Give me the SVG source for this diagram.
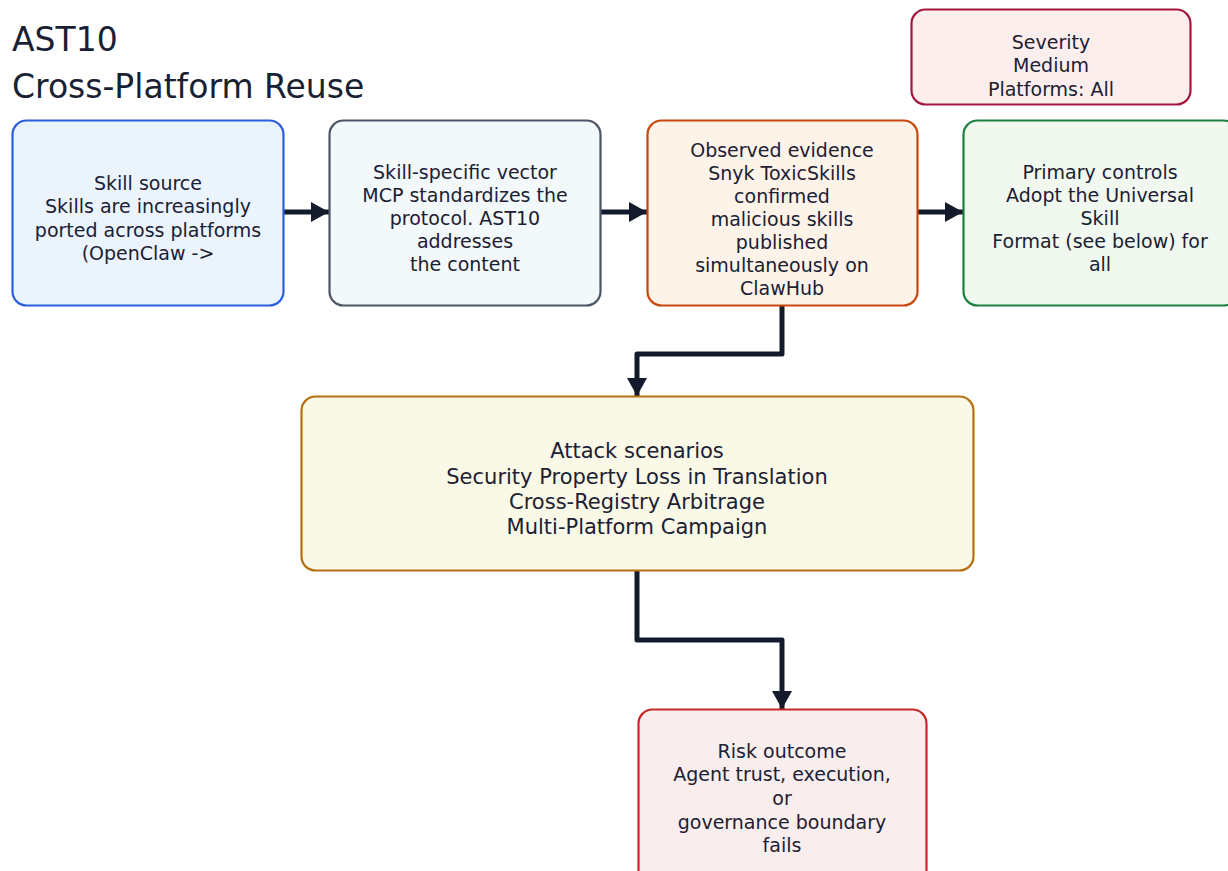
<svg xmlns="http://www.w3.org/2000/svg" width="1228" height="871" viewBox="0 0 1228 871">
  <style>
    .title { font-family: "DejaVu Sans", "Liberation Sans", sans-serif; font-size: 33px; fill: #1a1f33; }
    .lbl { font-family: "DejaVu Sans", "Liberation Sans", sans-serif; font-size: 19px; fill: #1c2033; text-anchor: middle; }
    .lbl-lg { font-family: "DejaVu Sans", "Liberation Sans", sans-serif; font-size: 21px; fill: #1c2033; text-anchor: middle; }
    .box { stroke-width: 2.2; }
    .conn { fill: none; stroke: #131a2c; stroke-width: 5; stroke-linejoin: round; }
  </style>
  <defs>
    <marker id="arrow" markerUnits="userSpaceOnUse" markerWidth="20" markerHeight="22" refX="18" refY="10" orient="auto">
      <path d="M0,0 L18,10 L0,20 Z" fill="#131a2c"/>
    </marker>
  </defs>

  <rect width="1228" height="871" fill="#ffffff"/>

  <g id="title">
    <text class="title" x="12" y="51">AST10</text>
    <text class="title" x="12" y="98">Cross-Platform Reuse</text>
  </g>

  <g id="connectors">
    <path class="conn" d="M284,212 H329" marker-end="url(#arrow)"/>
    <path class="conn" d="M600,212 H647" marker-end="url(#arrow)"/>
    <path class="conn" d="M917,212 H963" marker-end="url(#arrow)"/>
    <path class="conn" d="M782,305 V354 H637 V396" marker-end="url(#arrow)"/>
    <path class="conn" d="M637,570 V640 H782 V709" marker-end="url(#arrow)"/>
  </g>

  <g id="severity">
    <rect class="box" x="911.5" y="9.5" width="279" height="95" rx="14" fill="#fdeeee" stroke="#a3173f"/>
    <text class="lbl" x="1051" y="49">Severity</text>
    <text class="lbl" x="1051" y="72">Medium</text>
    <text class="lbl" x="1051" y="96">Platforms: All</text>
  </g>

  <g id="skill-source">
    <rect class="box" x="12.5" y="120.5" width="271" height="185" rx="14" fill="#ebf3fd" stroke="#2a5fdc"/>
    <text class="lbl" x="148" y="190">Skill source</text>
    <text class="lbl" x="148" y="213">Skills are increasingly</text>
    <text class="lbl" x="148" y="237">ported across platforms</text>
    <text class="lbl" x="148" y="260">(OpenClaw -&gt;</text>
  </g>

  <g id="skill-vector">
    <rect class="box" x="329.5" y="120.5" width="271" height="185" rx="14" fill="#f3f8fa" stroke="#4c5566"/>
    <text class="lbl" x="465" y="179">Skill-specific vector</text>
    <text class="lbl" x="465" y="202">MCP standardizes the</text>
    <text class="lbl" x="465" y="225">protocol. AST10</text>
    <text class="lbl" x="465" y="248">addresses</text>
    <text class="lbl" x="465" y="271">the content</text>
  </g>

  <g id="evidence">
    <rect class="box" x="647.5" y="120.5" width="270" height="185" rx="14" fill="#fdf3e9" stroke="#c8470f"/>
    <text class="lbl" x="782" y="157">Observed evidence</text>
    <text class="lbl" x="782" y="180">Snyk ToxicSkills</text>
    <text class="lbl" x="782" y="203">confirmed</text>
    <text class="lbl" x="782" y="226">malicious skills</text>
    <text class="lbl" x="782" y="249">published</text>
    <text class="lbl" x="782" y="272">simultaneously on</text>
    <text class="lbl" x="782" y="295">ClawHub</text>
  </g>

  <g id="controls">
    <rect class="box" x="963.5" y="120.5" width="274" height="185" rx="14" fill="#f0f8ef" stroke="#1d8040"/>
    <text class="lbl" x="1100" y="179">Primary controls</text>
    <text class="lbl" x="1100" y="202">Adopt the Universal</text>
    <text class="lbl" x="1100" y="225">Skill</text>
    <text class="lbl" x="1100" y="248">Format (see below) for</text>
    <text class="lbl" x="1100" y="271">all</text>
  </g>

  <g id="attack-scenarios">
    <rect class="box" x="301.5" y="396.5" width="672" height="174" rx="14" fill="#faf8e6" stroke="#b5700f"/>
    <text class="lbl-lg" x="637" y="458">Attack scenarios</text>
    <text class="lbl-lg" x="637" y="484">Security Property Loss in Translation</text>
    <text class="lbl-lg" x="637" y="509">Cross-Registry Arbitrage</text>
    <text class="lbl-lg" x="637" y="534">Multi-Platform Campaign</text>
  </g>

  <g id="risk-outcome">
    <rect class="box" x="638.5" y="709.5" width="288" height="175" rx="14" fill="#f9eded" stroke="#c42828"/>
    <text class="lbl" x="782" y="758">Risk outcome</text>
    <text class="lbl" x="782" y="781">Agent trust, execution,</text>
    <text class="lbl" x="782" y="805">or</text>
    <text class="lbl" x="782" y="829">governance boundary</text>
    <text class="lbl" x="782" y="852">fails</text>
  </g>
</svg>
